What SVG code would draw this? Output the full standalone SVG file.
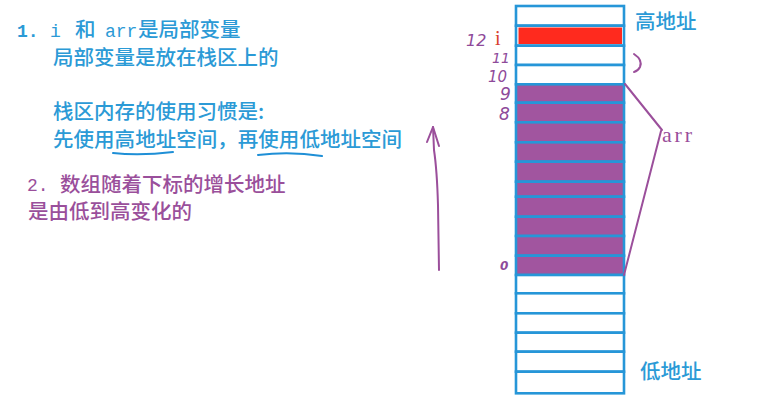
<svg xmlns="http://www.w3.org/2000/svg" width="768" height="412" viewBox="0 0 768 412">
<style>
.t{font-family:"Noto Sans CJK SC",sans-serif;font-size:20.5px;font-weight:500}
.m{font-family:"Liberation Mono",monospace;font-size:18px}
.b{fill:#2b9ad6}
.p{fill:#9a4f9b}
.cell{stroke:#2696d8;stroke-width:2.6}
.w{fill:#ffffff}
.pu{fill:#a1559f}
.hw{font-family:"DejaVu Sans",sans-serif;font-style:italic;fill:#8e4a9a}
.ps{fill:none;stroke:#9b4f9b;stroke-width:2;stroke-linecap:round;stroke-linejoin:round}
.ul{fill:none;stroke:#1f8fd6;stroke-width:2;stroke-linecap:round}
</style>
<rect width="768" height="412" fill="#ffffff"/>
<g id="notes1">
<text class="m b" x="17" y="37" font-weight="bold">1.</text>
<text class="m b" x="50" y="37">i</text>
<text class="t b" x="75" y="37">和</text>
<text class="m b" x="105" y="37" font-size="19">arr</text>
<text class="t b" x="138" y="37">是局部变量</text>
<text class="t b" x="53" y="65">局部变量是放在栈区上的</text>
<text class="t b" x="53" y="119">栈区内存的使用习惯是:</text>
<text class="t b" x="53" y="147" textLength="349">先使用高地址空间，再使用低地址空间</text>
<path class="ul" d="M113 153 Q140 156 173 152"/>
<path class="ul" d="M258 155 Q290 151 322 156"/>
</g>
<g id="notes2">
<text class="m p" x="27" y="191">2.</text>
<text class="t p" x="60" y="192">数组随着下标的增长地址</text>
<text class="t p" x="28" y="219">是由低到高变化的</text>
</g>
<g id="stack">
<rect class="cell w" x="516" y="6" width="108" height="19.7"/>
<rect class="cell w" x="516" y="25.7" width="108" height="20"/>
<rect x="518.5" y="27.5" width="103.5" height="16.5" fill="#ff2a1e"/>
<rect class="cell w" x="516" y="45.7" width="108" height="19.3"/>
<rect class="cell w" x="516" y="65" width="108" height="19.3"/>
<rect class="cell pu" x="516" y="84.3" width="108" height="18.4"/>
<rect class="cell pu" x="516" y="102.7" width="108" height="19.6"/>
<rect class="cell pu" x="516" y="122.3" width="108" height="20"/>
<rect class="cell pu" x="516" y="142.3" width="108" height="19.4"/>
<rect class="cell pu" x="516" y="161.7" width="108" height="20"/>
<rect class="cell pu" x="516" y="181.7" width="108" height="15"/>
<rect class="cell pu" x="516" y="196.7" width="108" height="20"/>
<rect class="cell pu" x="516" y="216.7" width="108" height="19.3"/>
<rect class="cell pu" x="516" y="236" width="108" height="19.7"/>
<rect class="cell pu" x="516" y="255.7" width="108" height="19.3"/>
<rect class="cell w" x="516" y="275" width="108" height="18.3"/>
<rect class="cell w" x="516" y="293.3" width="108" height="20"/>
<rect class="cell w" x="516" y="313.3" width="108" height="19.4"/>
<rect class="cell w" x="516" y="332.7" width="108" height="19"/>
<rect class="cell w" x="516" y="351.7" width="108" height="20"/>
<rect class="cell w" x="516" y="371.7" width="108" height="21.6"/>
</g>
<g id="labels">
<text class="t b" x="635" y="29" font-size="19">高地址</text>
<text class="t b" x="640" y="379" font-size="19">低地址</text>
<text x="495" y="45" font-family="Liberation Serif,serif" font-size="20" fill="#d8402e">i</text>
<text class="hw" x="466" y="46" font-size="16">12</text>
<text class="hw" x="492" y="63" font-size="14">11</text>
<text class="hw" x="488" y="82" font-size="15">10</text>
<text class="hw" x="500" y="100" font-size="17">9</text>
<text class="hw" x="499" y="120" font-size="17">8</text>
<text class="hw" x="500" y="270" font-size="12" font-weight="bold">0</text>
<text x="662" y="142" font-family="Liberation Serif,serif" font-size="22" fill="#9a4f9b" textLength="30">arr</text>
</g>
<g id="connectors">
<path class="ps" d="M634 54 Q643 60 640 67 Q638 71 634 72"/>
<path class="ps" d="M625 84 L662 130"/>
<path class="ps" d="M661 131 L624 275"/>
<path class="ps" d="M439 270 L438 205 Q437 170 434 150 L433 127"/>
<path class="ps" d="M427 142 L433 127 L439 146"/>
</g>
</svg>
